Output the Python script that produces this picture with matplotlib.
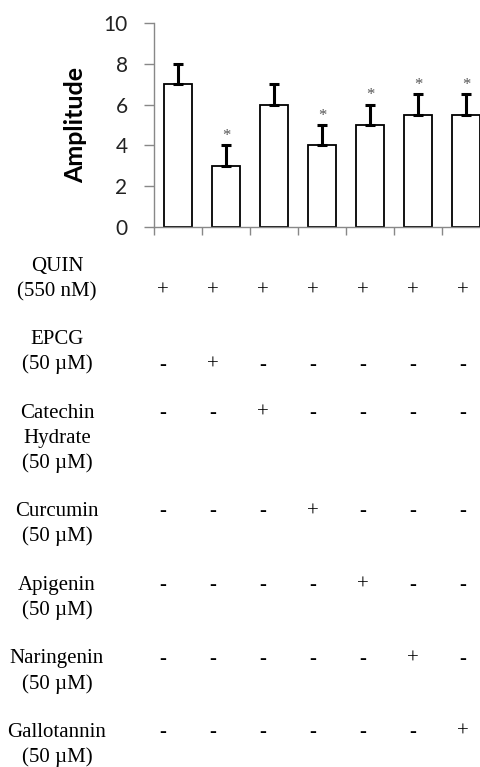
import matplotlib
matplotlib.use("Agg")
import matplotlib.pyplot as plt
import numpy as np

# data
groups = ["QUIN", "EPCG", "Catechin Hydrate", "Curcumin", "Apigenin", "Naringenin", "Gallotannin"]
amplitude = [7.0, 3.0, 6.0, 4.0, 5.0, 5.5, 5.5]
error = [1.0, 1.0, 1.0, 1.0, 1.0, 1.0, 1.0]
significant = [False, True, False, True, True, True, True]

# treatment table below the chart
row_labels = [
    ["QUIN", "(550 nM)"],
    ["EPCG", "(50 \u00b5M)"],
    ["Catechin", "Hydrate", "(50 \u00b5M)"],
    ["Curcumin", "(50 \u00b5M)"],
    ["Apigenin", "(50 \u00b5M)"],
    ["Naringenin", "(50 \u00b5M)"],
    ["Gallotannin", "(50 \u00b5M)"],
]
row_signs = [
    ["+", "+", "+", "+", "+", "+", "+"],
    ["-", "+", "-", "-", "-", "-", "-"],
    ["-", "-", "+", "-", "-", "-", "-"],
    ["-", "-", "-", "+", "-", "-", "-"],
    ["-", "-", "-", "-", "+", "-", "-"],
    ["-", "-", "-", "-", "-", "+", "-"],
    ["-", "-", "-", "-", "-", "-", "+"],
]
sign_line = [1, 1, 0, 0, 0, 0, 0]

W, H = 480, 767
fig = plt.figure(figsize=(W / 100, H / 100), dpi=100)
ax = fig.add_axes([154 / W, 540 / H, 336 / W, 204 / H])

x = np.arange(len(amplitude))
ax.bar(x, amplitude, width=0.58, color="white", edgecolor="black", linewidth=1.3, zorder=2)
ax.errorbar(x, amplitude, yerr=[np.zeros(len(error)), error], fmt="none",
            ecolor="black", elinewidth=2.2, capsize=3.6, capthick=2.2, zorder=3)

for i in range(len(amplitude)):
    if significant[i]:
        ax.text(x[i], amplitude[i] + error[i] + 0.45, "*", ha="center", va="center",
                fontsize=12, color="#555555", family="Liberation Serif")

ax.set_xlim(-0.5, len(amplitude) - 0.5)
ax.set_ylim(0, 10)
ax.set_yticks([0, 2, 4, 6, 8, 10])
ax.set_xticks([])
ax.set_xticks(np.arange(len(amplitude) + 1) - 0.5, minor=True)
ax.tick_params(axis="x", which="minor", direction="out", length=6, width=1, color="#888888")
ax.tick_params(axis="y", direction="out", length=7, width=1, color="#888888",
               labelsize=15, pad=12, labelcolor="#222222")
for lab in ax.get_yticklabels():
    lab.set_family("Lato")

for s in ["top", "right"]:
    ax.spines[s].set_visible(False)
for s in ["left", "bottom"]:
    ax.spines[s].set_color("#888888")
    ax.spines[s].set_linewidth(1)

ax.set_ylabel("Amplitude", fontsize=18, fontweight="bold", family="Lato", labelpad=12)

# table of treatments
line_h = 25
y = 265
label_x = 57
col_x0, col_dx = 163, 50
fs = 15
for r in range(len(row_labels)):
    for k, line in enumerate(row_labels[r]):
        fig.text(label_x / W, 1 - (y + k * line_h + 6) / H, line, ha="center", va="baseline",
                 fontsize=fs, family="Liberation Serif")
    sy = y + sign_line[r] * line_h + 6
    for c, sgn in enumerate(row_signs[r]):
        fig.text((col_x0 + c * col_dx) / W, 1 - sy / H, sgn, ha="center", va="baseline",
                 fontsize=fs, family="Liberation Serif")
    y += len(row_labels[r]) * line_h + 23.5

fig.savefig("out.png", dpi=100)
